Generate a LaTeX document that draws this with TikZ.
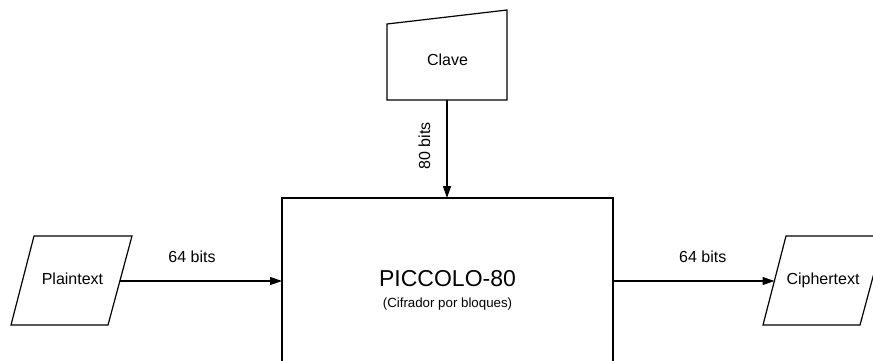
\documentclass[tikz,border=0pt]{standalone}
\usepackage{fontspec}
\setmainfont{Liberation Sans}
\usetikzlibrary{arrows.meta}
\begin{document}
\begin{tikzpicture}[x=1pt,y=-1pt,line width=1.2pt,
  conn/.style={-{Triangle[length=12pt,width=8pt]}},
  lbl/.style={font=\fontsize{16}{19}\selectfont,inner sep=0pt,anchor=base},
  shapeline/.style={draw=black,line width=1.2pt}]
\useasboundingbox (0,0) rectangle (873,360);
\clip (0,0) rectangle (873,360);
% Clave (manual input)
\draw[shapeline] (387,24) -- (507,10) -- (507,100) -- (387,100) -- cycle;
\node[lbl] (clave) at (447.5,65) {Clave};
\coordinate (claveS) at (447,100);
% main block
\draw[shapeline] (282,198) rectangle (613,420);
\coordinate (boxN) at (447,198);
\coordinate (boxW) at (282,281);
\coordinate (boxE) at (613,281);
\node[font=\fontsize{23}{27}\selectfont,inner sep=0pt,anchor=base] (piccolo) at (447.5,286) {PICCOLO-80};
\node[font=\fontsize{13.3}{16}\selectfont,inner sep=0pt,anchor=base] (sub) at (447.5,307) {(Cifrador por bloques)};
% Plaintext
\draw[shapeline] (34,236) -- (132,236) -- (108,325) -- (11,325) -- cycle;
\node[lbl] (plain) at (72.5,284.3) {Plaintext};
\coordinate (plainE) at (120,281);
% Ciphertext
\draw[shapeline] (786,236) -- (884,236) -- (860,325) -- (763,325) -- cycle;
\node[lbl] (cipher) at (823,284.3) {Ciphertext};
\coordinate (cipherW) at (774.5,281);
% connectors
\draw[conn] (claveS) -- (boxN);
\node[lbl,rotate=90] (k80) at (430,146) {80 bits};
\draw[conn] (plainE) -- (boxW);
\node[lbl] (p64) at (192,262.3) {64 bits};
\draw[conn] (boxE) -- (cipherW);
\node[lbl] (c64) at (702.8,262.3) {64 bits};
\end{tikzpicture}
\end{document}
